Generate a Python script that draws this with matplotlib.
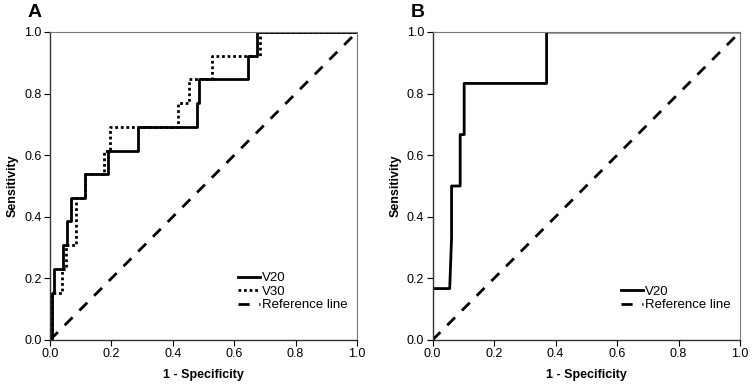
import matplotlib
matplotlib.use("Agg")
import matplotlib.pyplot as plt

plt.rcParams['font.family'] = ['Liberation Sans', 'DejaVu Sans']

# panel A, V20 (solid)
a_v20_fpr = [0.0, 0.005, 0.005, 0.013, 0.013, 0.041, 0.041, 0.054, 0.054, 0.067, 0.067,
             0.114, 0.114, 0.19, 0.19, 0.286, 0.286, 0.48, 0.48, 0.486, 0.486, 0.646, 0.646,
             0.675, 0.675, 1.0]
a_v20_tpr = [0.0, 0.0, 0.154, 0.154, 0.231, 0.231, 0.308, 0.308, 0.385, 0.385, 0.462,
             0.462, 0.538, 0.538, 0.615, 0.615, 0.692, 0.692, 0.769, 0.769, 0.846, 0.846, 0.923,
             0.923, 1.0, 1.0]
# panel A, V30 (dotted)
a_v30_fpr = [0.0, 0.005, 0.005, 0.038, 0.038, 0.052, 0.052, 0.085, 0.085, 0.114, 0.114,
             0.176, 0.176, 0.195, 0.195, 0.418, 0.418, 0.453, 0.453, 0.527, 0.527, 0.684,
             0.684, 1.0]
a_v30_tpr = [0.0, 0.0, 0.154, 0.154, 0.231, 0.231, 0.308, 0.308, 0.462, 0.462, 0.538,
             0.538, 0.615, 0.615, 0.692, 0.692, 0.769, 0.769, 0.846, 0.846, 0.923, 0.923,
             1.0, 1.0]
# panel B, V20 (solid)
b_v20_fpr = [0.0, 0.0, 0.056, 0.062, 0.062, 0.09, 0.09, 0.103, 0.103, 0.371, 0.371, 1.0]
b_v20_tpr = [0.0, 0.167, 0.167, 0.333, 0.5, 0.5, 0.667, 0.667, 0.833, 0.833, 1.0, 1.0]

ticks = [0.0, 0.2, 0.4, 0.6, 0.8, 1.0]
tick_labels = ['0.0', '0.2', '0.4', '0.6', '0.8', '1.0']

fig = plt.figure(figsize=(7.54, 3.9), dpi=100)
W, H = 754, 390
axA = fig.add_axes([50 / W, 1 - 340 / H, 307 / W, 308 / H])
axB = fig.add_axes([432.5 / W, 1 - 340 / H, 307.5 / W, 308 / H])


def style(ax, letter):
    ax.set_xlim(0, 1)
    ax.set_ylim(0, 1)
    ax.set_xticks(ticks)
    ax.set_xticklabels(tick_labels)
    ax.set_yticks(ticks)
    ax.set_yticklabels(tick_labels)
    ax.tick_params(direction='out', length=4.5, width=0.8, labelsize=9, pad=1.5,
                   top=False, right=False)
    for s in ['left', 'bottom']:
        ax.spines[s].set_color('#333333')
        ax.spines[s].set_linewidth(1.0)
    for s in ['top', 'right']:
        ax.spines[s].set_color('#777777')
        ax.spines[s].set_linewidth(0.8)
    ax.set_xlabel('1 - Specificity', fontsize=9, fontweight='bold', labelpad=6)
    ax.set_ylabel('Sensitivity', fontsize=9, fontweight='bold', labelpad=4)
    ax.text(-0.049, 1.05, letter, transform=ax.transAxes, fontsize=14,
            fontweight='bold', ha='center', va='baseline')


axA.plot(a_v20_fpr, a_v20_tpr, color='black', lw=2.0, label='V20')
axA.plot(a_v30_fpr, a_v30_tpr, color='black', lw=2.0, ls=(0, (1, 1)), label='V30')
axA.plot([0, 1], [0, 1], color='black', lw=2.0, ls=(0, (4, 3.5)), label='Reference line')
style(axA, 'A')
axA.legend(loc='lower right', bbox_to_anchor=(1.0, 0.063), frameon=False, fontsize=9.5,
           handlelength=1.6, handletextpad=0.2, labelspacing=0.1, borderpad=0.2)

axB.plot(b_v20_fpr, b_v20_tpr, color='black', lw=2.0, label='V20')
axB.plot([0, 1], [0, 1], color='black', lw=2.0, ls=(0, (4, 3.5)), label='Reference line')
style(axB, 'B')
axB.legend(loc='lower right', bbox_to_anchor=(1.0, 0.063), frameon=False, fontsize=9.5,
           handlelength=1.6, handletextpad=0.2, labelspacing=0.1, borderpad=0.2)

fig.savefig('out.png', dpi=100)
